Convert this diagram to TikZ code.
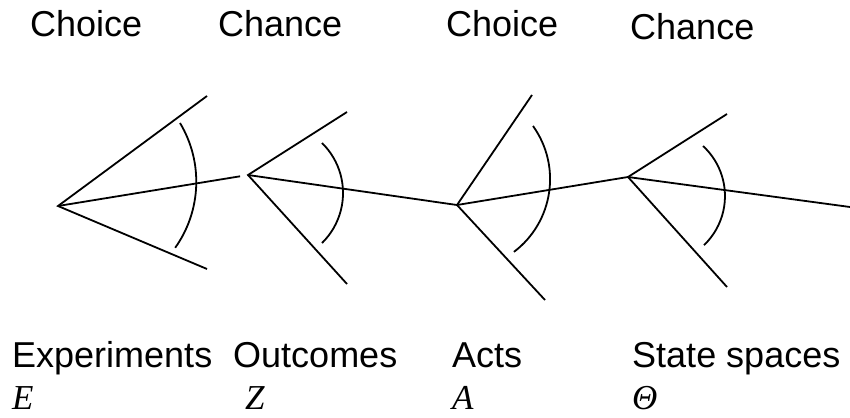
\documentclass[tikz,border=0pt]{standalone}
\usepackage{fontspec}
\setmainfont{Liberation Sans}
\newfontfamily\varfont{Liberation Serif}
\begin{document}
\begin{tikzpicture}[x=1pt,y=-1pt,
  branch/.style={line width=1.8pt},
  lbl/.style={anchor=base west, inner sep=0pt, font=\fontsize{36}{40}\selectfont},
  var/.style={anchor=base west, inner sep=0pt, font=\varfont\itshape\fontsize{35}{40}\selectfont}]
\useasboundingbox (0,0) rectangle (850,417);

% decision and chance nodes
\coordinate (n1) at (58,206);
\coordinate (n2) at (248,175);
\coordinate (n3) at (457,205);
\coordinate (n4) at (628,177);
\coordinate (out) at (850,207);

% outer branch tips
\coordinate (u1) at (207,96);   \coordinate (l1) at (207,269);
\coordinate (u2) at (347,112);  \coordinate (l2) at (347,284);
\coordinate (u3) at (532,95);   \coordinate (l3) at (545,300);
\coordinate (u4) at (727,114);  \coordinate (l4) at (727,287);

% arc start points
\coordinate (a1) at (180,123);
\coordinate (a2) at (322,143);
\coordinate (a3) at (533,126);
\coordinate (a4) at (703,146);

% branches
\draw[branch] (u1) -- (n1) -- (l1);
\draw[branch, shorten >=8pt] (n1) -- (n2);
\draw[branch] (u2) -- (n2) -- (l2);
\draw[branch] (n2) -- (n3);
\draw[branch] (u3) -- (n3) -- (l3);
\draw[branch] (n3) -- (n4);
\draw[branch] (u4) -- (n4) -- (l4);
\draw[branch] (n4) -- (out);

% arcs marking the fans
\draw[branch] (a1) arc[start angle=-31, end angle=35.4, radius=114];
\draw[branch] (a2) arc[start angle=-45.6, end angle=45.6, radius=70];
\draw[branch] (a3) arc[start angle=-35.6, end angle=52.8, radius=91.3];
\draw[branch] (a4) arc[start angle=-47.4, end angle=46.2, radius=68];

% headings
\node[lbl] (h1) at (30,37) {Choice};
\node[lbl] (h2) at (218,37) {Chance};
\node[lbl] (h3) at (446,37) {Choice};
\node[lbl] (h4) at (630,40) {Chance};

% stage names
\node[lbl] (s1) at (12,367) {Experiments};
\node[lbl] (s2) at (233,367) {Outcomes};
\node[lbl] (s3) at (452,367) {Acts};
\node[lbl] (s4) at (632,367) {State spaces};

% symbols
\node[var] (v1) at (12,409) {E};
\node[var] (v2) at (245,409) {Z};
\node[var] (v3) at (452,409) {A};
\node[var] (v4) at (632,409) {Θ};
\end{tikzpicture}
\end{document}
